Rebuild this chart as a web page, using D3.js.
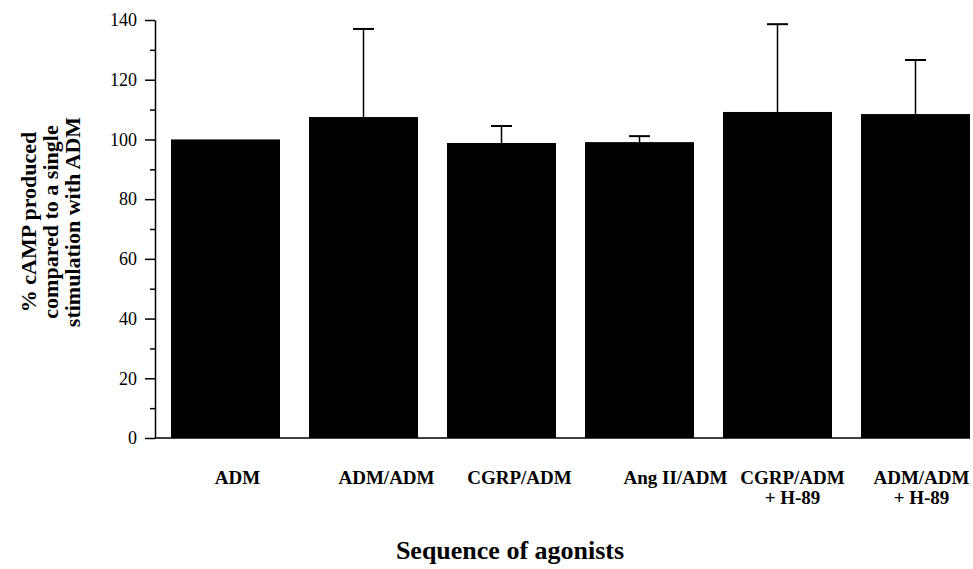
<!DOCTYPE html>
<html>
<head>
<meta charset="utf-8">
<script src="https://cdn.jsdelivr.net/npm/d3@7"></script>
<style>
  body { margin: 0; background: #fff; }
  svg { display: block; font-family: 'Liberation Serif', 'Times New Roman', serif; }
  .axis path, .axis line { stroke: #000; stroke-width: 1.5; }
  .axis text { fill: #000; }
</style>
</head>
<body>
<div id="chart-container"></div>
<script>
var categories = [
  ['ADM'],
  ['ADM/ADM'],
  ['CGRP/ADM'],
  ['Ang II/ADM'],
  ['CGRP/ADM', '+ H-89'],
  ['ADM/ADM', '+ H-89']
];
var camp = [100, 107.5, 98.8, 99.1, 109.2, 108.5];
var campErr = [0, 29.5, 5.7, 2.0, 29.4, 18.1];
var yTicks = [0, 20, 40, 60, 80, 100, 120, 140];
var yMinorTicks = [10, 30, 50, 70, 90, 110, 130];

var chart = {};

chart.render = function() {

  var svgWidth = 973,
      svgHeight = 569,
      svg = d3.select('#chart-container').append('svg').attr('width', svgWidth).attr('height', svgHeight),
      left = 155,
      top = 20,
      bottom = 438,
      right = 970,
      serif = "'Liberation Serif', 'Times New Roman', serif";

  var idx = d3.range(categories.length);

  var x = d3.scaleBand().domain(idx).range([171, right]).paddingInner(0.21).paddingOuter(0);
  var y = d3.scaleLinear().domain([0, 140]).range([bottom, top]);

  // label nudges, the original labels sit a bit right of the bars
  var labelShift = [12, 23, 18, 36, 15, 6];

  // bars
  svg.append('g').selectAll('rect')
    .data(idx)
    .enter().append('rect')
    .attr('x', function(i) { return x(i); })
    .attr('y', function(i) { return y(camp[i]); })
    .attr('width', x.bandwidth())
    .attr('height', function(i) { return y(0) - y(camp[i]); })
    .attr('fill', '#000');

  // upper error bars
  var err = svg.append('g').selectAll('g')
    .data(idx.filter(function(i) { return campErr[i] > 0; }))
    .enter().append('g');

  err.append('line')
    .attr('x1', function(i) { return x(i) + x.bandwidth() / 2; })
    .attr('x2', function(i) { return x(i) + x.bandwidth() / 2; })
    .attr('y1', function(i) { return y(camp[i]); })
    .attr('y2', function(i) { return y(camp[i] + campErr[i]); })
    .attr('stroke', '#000')
    .attr('stroke-width', 1.5);

  err.append('line')
    .attr('x1', function(i) { return x(i) + x.bandwidth() / 2 - 10.5; })
    .attr('x2', function(i) { return x(i) + x.bandwidth() / 2 + 10.5; })
    .attr('y1', function(i) { return y(camp[i] + campErr[i]); })
    .attr('y2', function(i) { return y(camp[i] + campErr[i]); })
    .attr('stroke', '#000')
    .attr('stroke-width', 2);

  // x axis line
  svg.append('line')
    .attr('x1', left).attr('x2', right)
    .attr('y1', bottom).attr('y2', bottom)
    .attr('stroke', '#000')
    .attr('stroke-width', 1.5);

  // y axis
  svg.append('g').attr('class', 'axis')
    .attr('transform', 'translate(' + left + ',0)')
    .call(d3.axisLeft(y).tickValues(yMinorTicks).tickSize(5).tickFormat(''))
    .select('.domain').remove();

  svg.append('g').attr('class', 'axis')
    .attr('transform', 'translate(' + left + ',0)')
    .call(d3.axisLeft(y).tickValues(yTicks).tickSizeInner(10).tickSizeOuter(0).tickPadding(8))
    .attr('font-family', serif)
    .attr('font-size', 18);

  // category labels
  var lab = svg.append('g').selectAll('text')
    .data(idx)
    .enter().append('text')
    .attr('x', function(i) { return x(i) + x.bandwidth() / 2 + labelShift[i]; })
    .attr('y', 484)
    .attr('text-anchor', 'middle')
    .attr('font-weight', 'bold')
    .attr('font-size', 19);

  lab.selectAll('tspan')
    .data(function(i) { return categories[i]; })
    .enter().append('tspan')
    .attr('x', function() { return d3.select(this.parentNode).attr('x'); })
    .attr('dy', function(d, j) { return j === 0 ? 0 : 20; })
    .text(function(d) { return d; });

  // y title
  var yTitle = ['% cAMP produced', 'compared to a single', 'stimulation with ADM'];
  svg.append('text')
    .attr('transform', 'translate(36,' + (top + bottom) / 2 + ') rotate(-90)')
    .attr('text-anchor', 'middle')
    .attr('font-weight', 'bold')
    .attr('font-size', 22)
    .selectAll('tspan')
    .data(yTitle)
    .enter().append('tspan')
    .attr('x', 7)
    .attr('dy', function(d, j) { return j === 0 ? 0 : 22; })
    .text(function(d) { return d; });

  // x title
  svg.append('text')
    .attr('x', 510)
    .attr('y', 559)
    .attr('text-anchor', 'middle')
    .attr('font-weight', 'bold')
    .attr('font-size', 26)
    .text('Sequence of agonists');

};

chart.render();
</script>
</body>
</html>
